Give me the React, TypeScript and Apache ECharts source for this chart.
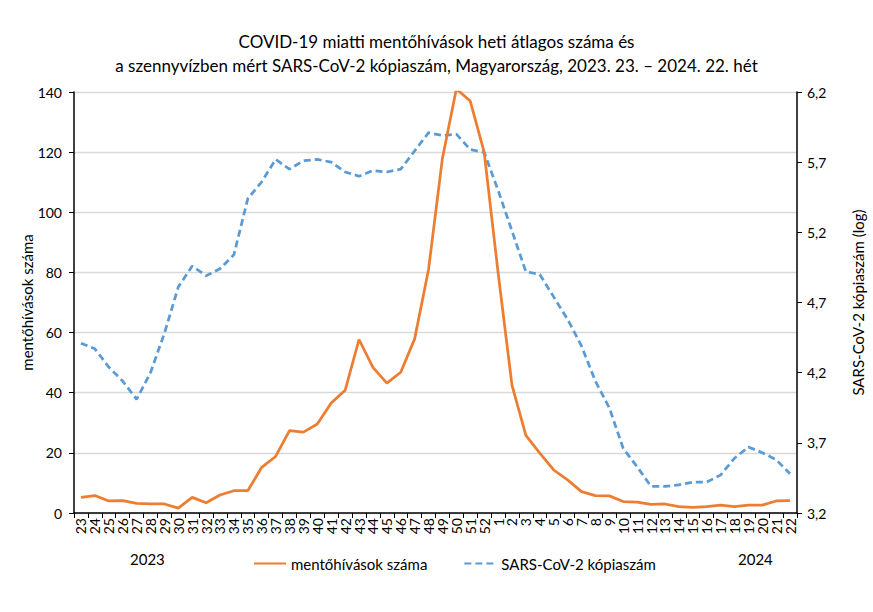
import React, { useEffect, useRef } from "react";
import * as echarts from "echarts";

const weeks: string[] = [
  "23","24","25","26","27","28","29","30","31","32","33","34","35","36","37","38","39","40",
  "41","42","43","44","45","46","47","48","49","50","51","52",
  "1","2","3","4","5","6","7","8","9","10","11","12","13","14","15","16","17","18","19","20","21","22",
];

const calls: number[] = [
  5.2, 5.8, 4.0, 4.1, 3.2, 3.0, 3.0, 1.6, 5.2, 3.4, 6.0, 7.4, 7.4, 15.2, 18.8, 27.4, 26.9, 29.6,
  36.6, 40.8, 57.7, 48.4, 43.2, 46.8, 57.9, 81, 118, 141, 137, 120,
  80, 42.5, 25.8, 19.9, 14.3, 11.0, 7.1, 5.8, 5.7, 3.8, 3.6, 2.9, 3.0, 2.1, 1.9, 2.1, 2.6, 2.1, 2.6, 2.6, 4.0, 4.1,
];

const copiesLog: number[] = [
  4.41, 4.37, 4.24, 4.14, 4.01, 4.2, 4.48, 4.81, 4.96, 4.89, 4.94, 5.04, 5.44, 5.56, 5.72, 5.65, 5.71, 5.72,
  5.7, 5.63, 5.6, 5.64, 5.63, 5.65, 5.78, 5.91, 5.89, 5.9, 5.79, 5.77,
  5.5, 5.21, 4.92, 4.9, 4.74, 4.58, 4.39, 4.14, 3.95, 3.66, 3.53, 3.39, 3.39, 3.4, 3.42, 3.42, 3.47, 3.59, 3.67, 3.63, 3.58, 3.48,
];

const rightMin = 3.2;
const rightMax = 6.2;
const leftTicks = { min: 0, max: 140, interval: 20 };
const titleLines = [
  "COVID-19 miatti mentőhívások heti átlagos száma és",
  "a szennyvízben mért SARS-CoV-2 kópiaszám, Magyarország, 2023. 23. – 2024. 22. hét",
];
const seriesNames = ["mentőhívások száma", "SARS-CoV-2 kópiaszám"];
const yearLabels = ["2023", "2024"];

const FONT = "Lato, 'Open Sans', sans-serif";

export default function App() {
  const ref = useRef<HTMLDivElement>(null);
  useEffect(() => {
    document.body.style.margin = "0";
    if (!ref.current) return;
    const chart = echarts.init(ref.current, undefined, { renderer: "svg" });
    chart.setOption({
      animation: false,
      backgroundColor: "#fff",
      textStyle: { fontFamily: FONT, color: "#000" },
      title: {
        text: titleLines.join("\n"),
        left: "center",
        top: 24,
        textStyle: { fontFamily: FONT, fontSize: 17, fontWeight: "normal", color: "#000", lineHeight: 24 },
      },
      grid: { left: 74, right: 68, top: 92, bottom: 99, containLabel: false },
      legend: {
        data: seriesNames,
        left: 248,
        top: 551,
        itemWidth: 32,
        itemHeight: 14,
        itemGap: 36,
        itemStyle: { opacity: 0 },
        textStyle: { fontFamily: FONT, fontSize: 15, color: "#000" },
      },
      xAxis: {
        type: "category",
        data: weeks,
        boundaryGap: true,
        axisLine: { lineStyle: { color: "#000", width: 1.5 } },
        axisTick: { show: true, interval: 0, length: 5, lineStyle: { color: "#000" } },
        axisLabel: { interval: 0, rotate: 90, fontSize: 14, color: "#000", fontFamily: FONT, margin: 5 },
      },
      yAxis: [
        {
          type: "value",
          min: leftTicks.min,
          max: leftTicks.max,
          interval: leftTicks.interval,
          name: "mentőhívások száma",
          nameLocation: "middle",
          nameRotate: 90,
          nameGap: 40,
          nameMoveOverlap: false,
          nameTextStyle: { fontFamily: FONT, fontSize: 15, color: "#000" },
          axisLine: { show: true, lineStyle: { color: "#000", width: 1.5 } },
          axisTick: { show: true, length: 5, lineStyle: { color: "#000" } },
          axisLabel: { fontSize: 14, color: "#000", fontFamily: FONT, margin: 12 },
          splitLine: { show: true, lineStyle: { color: "#d9d9d9", width: 1.3 } },
        },
        {
          type: "value",
          min: 0,
          max: rightMax - rightMin,
          interval: 0.5,
          position: "right",
          name: "SARS-CoV-2 kópiaszám (log)",
          nameLocation: "middle",
          nameRotate: 90,
          nameGap: 53,
          nameMoveOverlap: false,
          nameTextStyle: { fontFamily: FONT, fontSize: 15, color: "#000" },
          axisLine: { show: true, lineStyle: { color: "#000", width: 1.5 } },
          axisTick: { show: true, length: 5, lineStyle: { color: "#000" } },
          axisLabel: {
            fontSize: 14,
            color: "#000",
            fontFamily: FONT,
            margin: 10,
            formatter: (v: number) => (v + rightMin).toFixed(1).replace(".", ","),
          },
          splitLine: { show: false },
        },
      ],
      series: [
        {
          name: seriesNames[0],
          type: "line",
          data: calls,
          yAxisIndex: 0,
          showSymbol: false,
          symbol: "none",
          lineStyle: { color: "#ED7D31", width: 2.75 },
          itemStyle: { color: "#ED7D31" },
          z: 3,
        },
        {
          name: seriesNames[1],
          type: "line",
          data: copiesLog.map((v) => +(v - rightMin).toFixed(3)),
          yAxisIndex: 1,
          showSymbol: false,
          symbol: "none",
          lineStyle: { color: "#5B9BD5", width: 2.75, type: [7, 4] },
          itemStyle: { color: "#5B9BD5" },
          z: 2,
        },
      ],
      graphic: [
        { type: "text", left: 130, top: 551, style: { text: yearLabels[0], font: `15px ${FONT}`, fill: "#000" } },
        { type: "text", left: 738, top: 551, style: { text: yearLabels[1], font: `15px ${FONT}`, fill: "#000" } },
      ],
    });
    return () => chart.dispose();
  }, []);
  return <div ref={ref} style={{ width: 873, height: 612 }} />;
}
